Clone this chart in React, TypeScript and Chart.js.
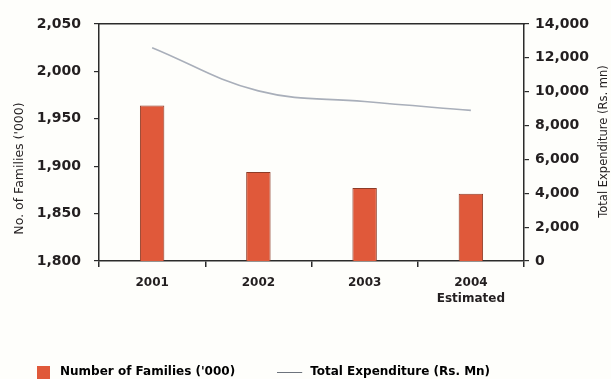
import React, { useEffect, useRef } from "react";
import { Chart, registerables } from "chart.js";

Chart.register(...registerables);

const years = ["2001", "2002", "2003", "2004"];
const subLabels = ["", "", "", "Estimated"];
const families = [1964, 1894, 1877, 1871];
const expenditure = [12600, 10050, 9420, 8900];

const familiesLabel = "Number of Families ('000)";
const expenditureLabel = "Total Expenditure (Rs. Mn)";
const leftTitle = "No. of Families ('000)";
const rightTitle = "Total Expenditure (Rs. mn)";

const leftMin = 1800;
const leftMax = 2050;
const leftStep = 50;
const rightMin = 0;
const rightMax = 14000;
const rightStep = 2000;

const BAR = "#E0593A";
const BAR_EDGE = "#8E3B26";
const LINE = "#A9AFBA";
const INK = "#231F20";
const AXIS = "#2b2b2b";
const FONT = '"DejaVu Sans", sans-serif';

const axisTitles = {
  id: "axisTitles",
  afterDraw(chart: any) {
    const { ctx, chartArea, scales } = chart;
    const cy = (chartArea.top + chartArea.bottom) / 2;
    ctx.save();
    ctx.fillStyle = INK;
    ctx.textAlign = "center";
    ctx.textBaseline = "middle";
    ctx.font = `12.5px ${FONT}`;
    ctx.translate(scales.y.right - 79, cy + 26);
    ctx.rotate(-Math.PI / 2);
    ctx.fillText(leftTitle, 0, 0);
    ctx.restore();
    ctx.save();
    ctx.fillStyle = INK;
    ctx.textAlign = "center";
    ctx.textBaseline = "middle";
    ctx.font = `11.5px ${FONT}`;
    ctx.translate(scales.y1.right - 7, cy - 1);
    ctx.rotate(-Math.PI / 2);
    ctx.fillText(rightTitle, 0, 0);
    ctx.restore();
  },
};

export default function App() {
  const ref = useRef<HTMLCanvasElement | null>(null);

  useEffect(() => {
    if (!ref.current) return;
    // legend marker for the bars: 13px square at the left of a 17px box
    const sq = document.createElement("canvas");
    sq.width = 17;
    sq.height = 13;
    const sctx = sq.getContext("2d")!;
    sctx.fillStyle = BAR;
    sctx.fillRect(0, 0, 13, 13);
    // legend marker for the line: 25px stroke, shifted left of the text
    const ln = document.createElement("canvas");
    ln.width = 37;
    ln.height = 1;
    const lctx = ln.getContext("2d")!;
    lctx.fillStyle = "#6d737c";
    lctx.fillRect(0, 0, 25, 1);

    const labels = years.map((y, i) => (subLabels[i] ? [y, subLabels[i]] : y));

    const chart = new Chart(ref.current, {
      type: "bar",
      data: {
        labels,
        datasets: [
          {
            type: "line",
            label: expenditureLabel,
            data: expenditure,
            yAxisID: "y1",
            borderColor: LINE,
            borderWidth: 1.6,
            pointRadius: 0,
            tension: 0.4,
            fill: false,
            order: 0,
          } as any,
          {
            type: "bar",
            label: familiesLabel,
            data: families,
            yAxisID: "y",
            backgroundColor: BAR,
            borderColor: BAR_EDGE,
            borderWidth: 1,
            barPercentage: 0.23,
            categoryPercentage: 1,
            order: 1,
          },
        ],
      },
      options: {
        responsive: false,
        animation: false,
        layout: { padding: { top: 24, left: -15, right: 0, bottom: 0 } },
        plugins: {
          tooltip: { enabled: false },
          legend: {
            position: "bottom",
            align: "start",
            labels: {
              usePointStyle: true,
              pointStyleWidth: 17,
              padding: 52,
              color: INK,
              font: { family: FONT, size: 12, weight: "bold" },
              generateLabels: () => [
                {
                  text: familiesLabel,
                  pointStyle: sq,
                  fillStyle: BAR,
                  strokeStyle: BAR,
                  lineWidth: 0,
                  hidden: false,
                  datasetIndex: 1,
                } as any,
                {
                  text: expenditureLabel,
                  pointStyle: ln,
                  fillStyle: LINE,
                  strokeStyle: LINE,
                  lineWidth: 0,
                  hidden: false,
                  datasetIndex: 0,
                } as any,
              ],
            },
          },
        },
        scales: {
          x: {
            type: "category",
            position: "bottom",
            offset: true,
            grid: {
              offset: true,
              drawOnChartArea: false,
              drawTicks: true,
              tickLength: 6,
              color: AXIS,
              lineWidth: 1.5,
            },
            border: { display: true, color: AXIS, width: 1.5 },
            ticks: {
              color: INK,
              padding: 7,
              font: { family: FONT, size: 12, weight: "bold", lineHeight: 1.4 },
              maxRotation: 0,
              autoSkip: false,
            },
            afterFit: (s: any) => {
              s.height = 53;
            },
          },
          x2: {
            type: "category",
            position: "top",
            offset: true,
            grid: { display: false },
            border: { display: true, color: AXIS, width: 1.5 },
            ticks: { display: false },
            afterFit: (s: any) => {
              s.height = 0;
            },
          },
          y: {
            type: "linear",
            position: "left",
            min: leftMin,
            max: leftMax,
            grid: {
              drawOnChartArea: false,
              tickLength: 5,
              color: AXIS,
              lineWidth: 1.2,
            },
            border: { display: true, color: AXIS, width: 1.5 },
            ticks: {
              stepSize: leftStep,
              color: INK,
              padding: 13,
              font: { family: FONT, size: 14, weight: "bold" },
            },
            afterFit: (s: any) => {
              s.width = 114;
            },
          },
          y1: {
            type: "linear",
            position: "right",
            min: rightMin,
            max: rightMax,
            grid: {
              drawOnChartArea: false,
              tickLength: 5,
              color: AXIS,
              lineWidth: 1.2,
            },
            border: { display: true, color: AXIS, width: 1.5 },
            ticks: {
              stepSize: rightStep,
              color: INK,
              padding: 6,
              font: { family: FONT, size: 14, weight: "bold" },
            },
            afterFit: (s: any) => {
              s.width = 87;
            },
          },
        },
      },
      plugins: [axisTitles],
    });
    return () => chart.destroy();
  }, []);

  return (
    <div
      style={{
        position: "fixed",
        left: 0,
        top: 0,
        width: 611,
        height: 379,
        overflow: "hidden",
        background: "#FEFEFB",
      }}
    >
      <canvas ref={ref} width={611} height={388} style={{ display: "block" }} />
    </div>
  );
}
